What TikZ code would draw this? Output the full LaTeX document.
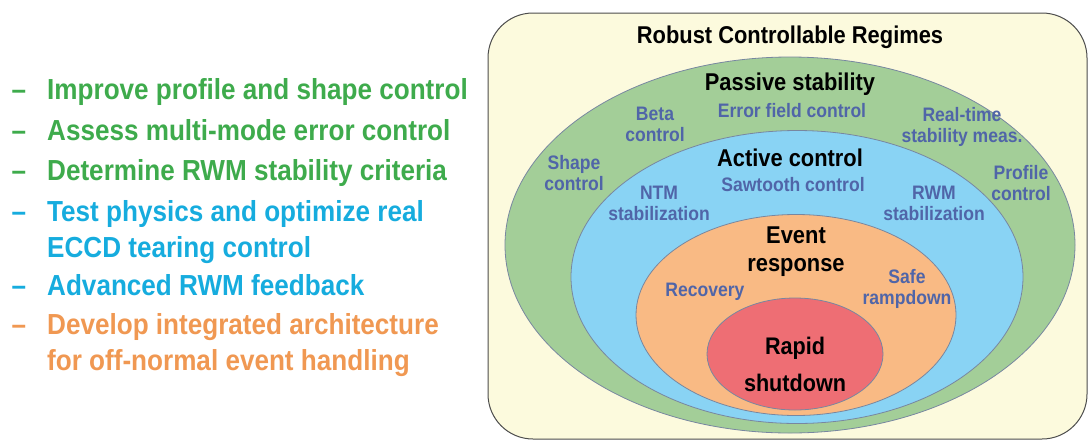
\documentclass[tikz,border=0pt]{standalone}
\usepackage{fontspec}
\setmainfont{Liberation Sans}[FakeStretch=0.9]
\usetikzlibrary{shapes.geometric}

\definecolor{cream}{RGB}{252,250,221}
\definecolor{passivegreen}{RGB}{163,206,152}
\definecolor{activeblue}{RGB}{137,211,244}
\definecolor{eventorange}{RGB}{249,186,132}
\definecolor{rapidred}{RGB}{238,110,116}
\definecolor{itemgreen}{RGB}{62,171,76}
\definecolor{itemblue}{RGB}{22,172,222}
\definecolor{itemorange}{RGB}{240,152,82}
\definecolor{labelblue}{RGB}{80,101,168}
\definecolor{edge}{RGB}{120,135,160}

\begin{document}
\begin{tikzpicture}[x=1pt, y=-1pt, font=\bfseries,
    ring/.style = {draw=edge, line width=0.8pt, ellipse, inner sep=0pt},
    item/.style = {anchor=base west, inner sep=0pt, font=\bfseries\fontsize{29}{36}\selectfont},
    bullet/.style = {anchor=base, inner sep=0pt, font=\bfseries\fontsize{29}{36}\selectfont},
    head/.style = {align=center, inner sep=0pt, font=\bfseries\fontsize{24.3}{28}\selectfont},
    lbl/.style = {align=center, inner sep=0pt, text=labelblue, font=\bfseries\fontsize{19.5}{21}\selectfont}]
  \useasboundingbox (0,0) rectangle (1089,440);

  % list of goals
  \node[bullet, text=itemgreen] (d1) at (19,99) {--};
  \node[item, text=itemgreen] (i1) at (47,99) {Improve profile and shape control};
  \node[bullet, text=itemgreen] (d2) at (19,140) {--};
  \node[item, text=itemgreen] (i2) at (47,140) {Assess multi-mode error control};
  \node[bullet, text=itemgreen] (d3) at (19,180) {--};
  \node[item, text=itemgreen] (i3) at (47,180) {Determine RWM stability criteria};
  \node[bullet, text=itemblue] (d4) at (19,221) {--};
  \node[item, text=itemblue] (i4) at (47,221) {Test physics and optimize real};
  \node[item, text=itemblue] (i4b) at (47,257) {ECCD tearing control};
  \node[bullet, text=itemblue] (d5) at (19,295) {--};
  \node[item, text=itemblue] (i5) at (47,295) {Advanced RWM feedback};
  \node[bullet, text=itemorange] (d6) at (19,334) {--};
  \node[item, text=itemorange] (i6) at (47,334) {Develop integrated architecture};
  \node[item, text=itemorange] (i6b) at (47,370) {for off-normal event handling};

  % regimes
  \draw[fill=cream, draw=black!70, line width=1pt, rounded corners=45] (488,13) rectangle (1087,439);
  \node[head] (robust) at (790,37) {Robust Controllable Regimes};

  \node[ring, fill=passivegreen, minimum width=570, minimum height=376] (passive) at (790,245) {};
  \node[ring, fill=activeblue, minimum width=452, minimum height=293] (active) at (797,277) {};
  \node[ring, fill=eventorange, minimum width=320, minimum height=201] (event) at (796,315) {};
  \node[ring, fill=rapidred, minimum width=176, minimum height=112] (rapid) at (795,354) {};

  \node[head] (passivetitle) at (790,84) {Passive stability};
  \node[lbl] (beta) at (655,124) {Beta\\control};
  \node[lbl] (errfield) at (792,111) {Error field control};
  \node[lbl] (realtime) at (962,127) {Real-time\\stability meas.};
  \node[lbl] (shape) at (574,173) {Shape\\control};
  \node[lbl] (profile) at (1021,183) {Profile\\control};

  \node[head] (activetitle) at (790,158) {Active control};
  \node[lbl] (sawtooth) at (793,185) {Sawtooth control};
  \node[lbl] (ntm) at (659,203) {NTM\\stabilization};
  \node[lbl] (rwm) at (934,203) {RWM\\stabilization};

  \node[head] (eventtitle) at (796,252) {Event\\response};
  \node[lbl] (recovery) at (705,292) {Recovery};
  \node[lbl] (rampdown) at (907,289) {Safe\\rampdown};

  \node[head, font=\bfseries\fontsize{24}{37}\selectfont] (rapidtitle) at (795,364) {Rapid\\shutdown};
\end{tikzpicture}
\end{document}
